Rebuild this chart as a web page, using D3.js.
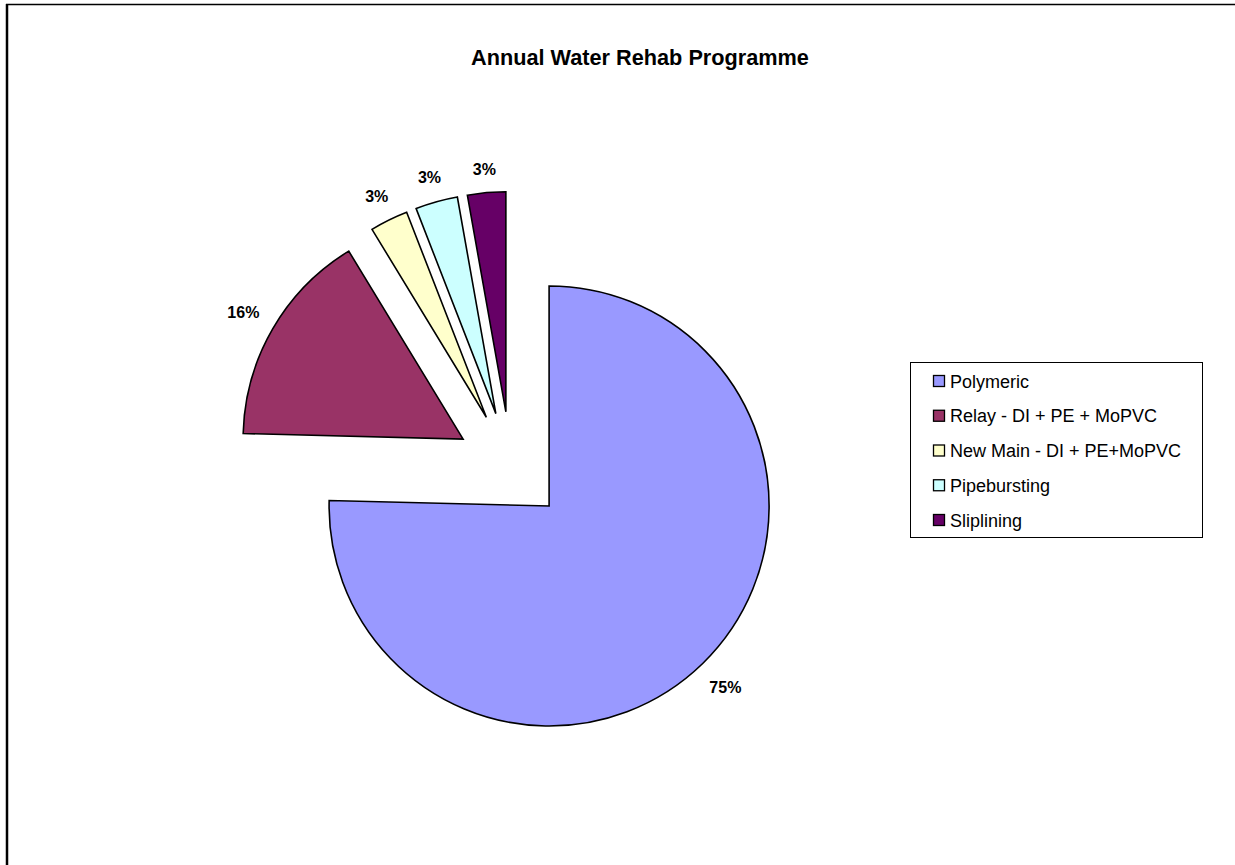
<!DOCTYPE html>
<html><head><meta charset="utf-8">
<script src="https://cdn.jsdelivr.net/npm/d3@7"></script>
<style>html,body{margin:0;padding:0;background:#fff;overflow:hidden}</style>
</head><body><svg id="c" width="1235" height="865"></svg>
<script>
const categories = ["Polymeric","Relay - DI + PE + MoPVC","New Main - DI + PE+MoPVC","Pipebursting","Sliplining"];
const values = [75.4, 15.9, 2.8, 3.1, 2.8];
const colors = ["#9999FF","#993366","#FFFFCC","#CCFFFF","#660066"];
const title = "Annual Water Rehab Programme";

const FONT = "'Liberation Sans', Arial, Helvetica, sans-serif";
const svg = d3.select("#c");

// chart border (left and top visible)
svg.append("line").attr("x1",7).attr("y1",4).attr("x2",7).attr("y2",865)
  .attr("stroke","#000").attr("stroke-width",2.5);
svg.append("line").attr("x1",6).attr("y1",4.5).attr("x2",1235).attr("y2",4.5)
  .attr("stroke","#000").attr("stroke-width",1.5);

svg.append("text").attr("x",640).attr("y",65).attr("text-anchor","middle")
  .attr("font-family",FONT).attr("font-weight","bold").attr("font-size",21.7)
  .text(title);

const cx = 510.7, cy = 466.6, R = 220, explode = 0.25 * R, gap = 17;
const total = d3.sum(values);
const data = categories.map((c,i)=>({name:c, value:values[i], color:colors[i]}));
const pie = d3.pie().sort(null).value(d=>d.value).startAngle(0).endAngle(2*Math.PI);
const arcs = pie(data);
const arc = d3.arc().innerRadius(0).outerRadius(R);

const g = svg.append("g").attr("transform",`translate(${cx},${cy})`);
arcs.forEach(a=>{
  const mid = (a.startAngle + a.endAngle)/2;
  const dx = Math.sin(mid), dy = -Math.cos(mid);
  g.append("path").attr("d", arc(a))
    .attr("transform",`translate(${dx*explode},${dy*explode})`)
    .attr("fill", a.data.color).attr("stroke","#000").attr("stroke-width",1.6)
    .attr("stroke-linejoin","miter");
});
arcs.forEach(a=>{
  const mid = (a.startAngle + a.endAngle)/2;
  const dx = Math.sin(mid), dy = -Math.cos(mid);
  const t = g.append("text").attr("font-family",FONT).attr("font-weight","bold")
    .attr("font-size",16).attr("text-anchor","middle").attr("dominant-baseline","central")
    .text(Math.round(a.data.value/total*100) + "%");
  const w = t.node().getComputedTextLength(), h = 12;
  const r = explode + R + gap + Math.abs(dx)*w/2 + Math.abs(dy)*h/2;
  t.attr("x", dx*r).attr("y", dy*r + 1);
});

// legend
const lg = svg.append("g");
lg.append("rect").attr("x",910.5).attr("y",362.5).attr("width",292).attr("height",175)
  .attr("fill","#fff").attr("stroke","#000").attr("stroke-width",1);
data.forEach((d,i)=>{
  const y = 381 + i*34.75;
  lg.append("rect").attr("x",933.5).attr("y",y-5.5).attr("width",11).attr("height",11)
    .attr("fill",d.color).attr("stroke","#000").attr("stroke-width",1.3);
  lg.append("text").attr("x",950).attr("y",y+6.5).attr("font-family",FONT)
    .attr("font-size",18).text(d.name);
});
</script></body></html>
